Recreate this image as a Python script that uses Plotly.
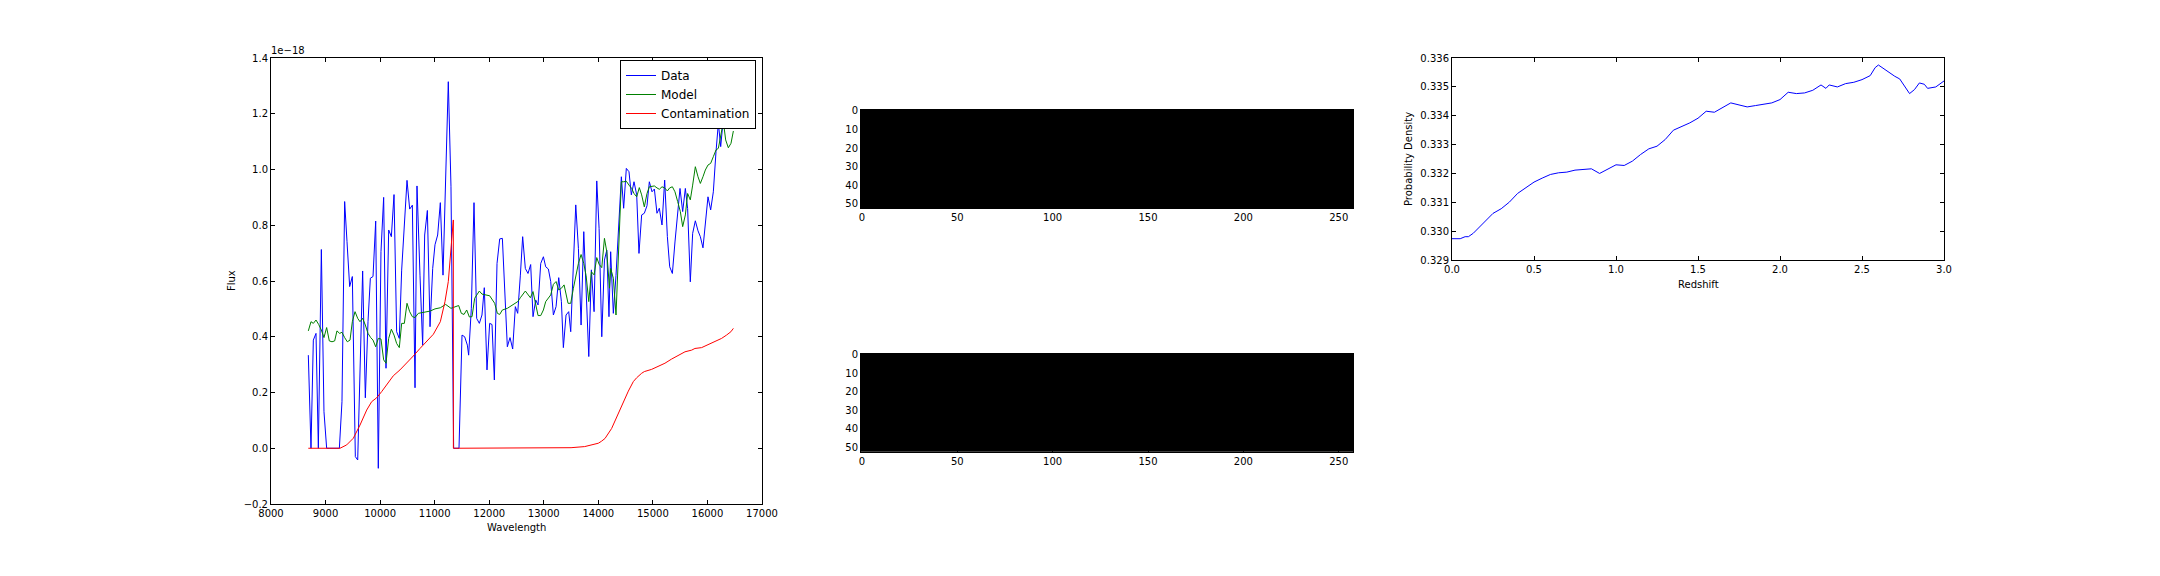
import numpy as np
import plotly.graph_objects as go

# ---------------- data: spectrum panel (flux in units of 1e-18) ----------------
data_wave = [8684, 8733, 8776, 8825, 8868, 8923, 8971, 9020, 9078, 9136, 9195, 9253, 9301, 9350, 9393,
             9442, 9491, 9546, 9589, 9680, 9729, 9778, 9821, 9870, 9919, 9967, 10016, 10065, 10108,
             10157, 10206, 10255, 10303, 10352, 10395, 10493, 10542, 10591, 10640, 10676, 10731, 10780,
             10817, 10866, 10915, 10964, 11006, 11055, 11104, 11153, 11250, 11299, 11348, 11397, 11446,
             11501, 11550, 11599, 11623, 11672, 11721, 11770, 11819, 11867, 11910, 11959, 12008, 12051,
             12094, 12143, 12192, 12241, 12290, 12332, 12381, 12430, 12479, 12522, 12571, 12613, 12662,
             12711, 12760, 12803, 12852, 12895, 12944, 12993, 13035, 13084, 13127, 13176, 13225, 13274,
             13323, 13359, 13408, 13457, 13494, 13543, 13586, 13635, 13684, 13733, 13776, 13825, 13873,
             13922, 13971, 14014, 14063, 14112, 14155, 14195, 14226, 14275, 14324, 14373, 14422, 14464,
             14513, 14562, 14605, 14654, 14703, 14745, 14794, 14843, 14892, 14935, 14984, 15027, 15075,
             15118, 15167, 15216, 15265, 15308, 15357, 15405, 15454, 15497, 15546, 15595, 15637, 15686,
             15729, 15778, 15827, 15870, 15918, 15961, 16010, 16059, 16108, 16157, 16200, 16243, 16292,
             16341, 16390, 16440]
data_flux = [0.334, 0.0, 0.388, 0.412, 0.0, 0.713, 0.131, 0.0, 0.0, 0.0, 0.0, 0.0, 0.167, 0.885, 0.741,
             0.580, 0.616, -0.030, -0.042, 0.636, 0.181, 0.454, 0.610, 0.616, 0.815, -0.072, 0.705, 0.900, 0.287,
             0.783, 0.759, 0.910, 0.418, 0.394, 0.639, 0.961, 0.858, 0.872, 0.217, 0.941, 0.621, 0.370,
             0.765, 0.853, 0.436, 0.645, 0.730, 0.765, 0.881, 0.621, 1.315, 0.940, 0.0, 0.0, 0.0,
             0.406, 0.400, 0.370, 0.334, 0.502, 0.881, 0.466, 0.448, 0.478, 0.576, 0.281, 0.448, 0.444,
             0.245, 0.663, 0.751, 0.753, 0.526, 0.364, 0.397, 0.356, 0.508, 0.484, 0.621, 0.759, 0.645,
             0.627, 0.659, 0.472, 0.532, 0.514, 0.663, 0.687, 0.651, 0.643, 0.598, 0.478, 0.508, 0.612,
             0.526, 0.361, 0.478, 0.490, 0.418, 0.645, 0.873, 0.717, 0.442, 0.777, 0.586, 0.329, 0.640,
             0.490, 0.959, 0.788, 0.400, 0.675, 0.711, 0.472, 0.705, 0.484, 0.620, 0.789, 0.974, 0.861,
             1.004, 0.992, 0.909, 0.956, 0.909, 0.699, 0.837, 0.843, 0.870, 0.956, 0.920, 0.930, 0.843,
             0.861, 0.801, 0.962, 0.760, 0.651, 0.627, 0.740, 0.850, 0.932, 0.849, 0.932, 0.860, 0.597,
             0.771, 0.816, 0.780, 0.759, 0.719, 0.800, 0.902, 0.855, 0.920, 1.064, 1.166, 1.082, 1.184,
             1.22, 1.24, 1.21]

model_wave = [8684, 8733, 8776, 8825, 8874, 8923, 8971, 9020, 9069, 9118, 9167, 9209, 9258, 9301, 9350,
              9399, 9448, 9491, 9540, 9589, 9631, 9680, 9729, 9778, 9827, 9870, 9919, 9967, 10016, 10065,
              10108, 10157, 10206, 10255, 10303, 10352, 10395, 10444, 10493, 10542, 10591, 10640, 10701,
              10817, 10915, 11006, 11104, 11201, 11299, 11440, 11489, 11538, 11587, 11636, 11685, 11733,
              11819, 11867, 11916, 12008, 12100, 12149, 12192, 12241, 12332, 12430, 12522, 12571, 12662,
              12754, 12803, 12895, 12944, 12993, 13035, 13127, 13176, 13225, 13274, 13323, 13372, 13445,
              13494, 13543, 13586, 13635, 13684, 13733, 13776, 13825, 13873, 13922, 13971, 14014, 14063,
              14112, 14155, 14204, 14226, 14275, 14324, 14422, 14464, 14513, 14562, 14611, 14654, 14703,
              14751, 14794, 14843, 14892, 14935, 14984, 15027, 15075, 15118, 15167, 15216, 15265, 15308,
              15357, 15405, 15454, 15503, 15546, 15595, 15637, 15686, 15729, 15778, 15827, 15870, 15918,
              15961, 16010, 16059, 16108, 16157, 16200, 16249, 16292, 16334, 16383, 16432, 16475]
model_flux = [0.421, 0.454, 0.448, 0.460, 0.444, 0.424, 0.397, 0.433, 0.385, 0.382, 0.385, 0.421, 0.412,
              0.416, 0.397, 0.382, 0.388, 0.454, 0.490, 0.466, 0.454, 0.466, 0.442, 0.412, 0.397, 0.388,
              0.364, 0.394, 0.392, 0.317, 0.305, 0.394, 0.427, 0.406, 0.376, 0.361, 0.448, 0.448, 0.520,
              0.490, 0.472, 0.469, 0.484, 0.487, 0.492, 0.500, 0.504, 0.516, 0.502, 0.512, 0.484, 0.480,
              0.496, 0.471, 0.472, 0.538, 0.564, 0.553, 0.550, 0.547, 0.520, 0.484, 0.480, 0.496, 0.502,
              0.514, 0.526, 0.540, 0.564, 0.540, 0.562, 0.476, 0.476, 0.496, 0.526, 0.550, 0.588, 0.598,
              0.568, 0.574, 0.586, 0.520, 0.520, 0.574, 0.622, 0.663, 0.695, 0.663, 0.619, 0.526, 0.633,
              0.622, 0.684, 0.660, 0.648, 0.753, 0.705, 0.574, 0.645, 0.610, 0.478, 0.956, 0.956, 0.958,
              0.944, 0.932, 0.914, 0.902, 0.935, 0.909, 0.866, 0.914, 0.938, 0.940, 0.941, 0.934, 0.929,
              0.938, 0.934, 0.923, 0.934, 0.938, 0.920, 0.885, 0.849, 0.795, 0.837, 0.914, 0.891, 0.944,
              1.010, 0.974, 0.950, 0.974, 0.998, 1.016, 1.022, 1.046, 1.070, 1.076, 1.136, 1.172, 1.106,
              1.078, 1.094, 1.138]

contam_wave = [8684, 9265, 9387, 9509, 9631, 9754, 9845, 9937, 10028, 10120, 10242, 10364, 10486, 10609,
               10731, 10853, 10976, 11104, 11189, 11250, 11299, 11342, 11343, 13000, 13500, 13750, 13900,
               14000, 14057, 14122, 14244, 14366, 14458, 14550, 14641, 14703, 14794, 14843, 14977, 15099,
               15221, 15343, 15466, 15588, 15710, 15771, 15893, 16015, 16137, 16259, 16350, 16430, 16475]
contam_flux = [0.0, 0.0, 0.012, 0.036, 0.083, 0.137, 0.167, 0.181, 0.203, 0.227, 0.260, 0.281, 0.305, 0.331,
               0.358, 0.382, 0.409, 0.454, 0.526, 0.598, 0.705, 0.819, 0.0, 0.0, 0.002, 0.006, 0.012,
               0.018, 0.025, 0.035, 0.071, 0.125, 0.167, 0.205, 0.239, 0.253, 0.269, 0.275, 0.283, 0.293,
               0.305, 0.320, 0.334, 0.346, 0.352, 0.358, 0.361, 0.373, 0.382, 0.394, 0.406, 0.418, 0.430]

# ---------------- data: 2D image panels (all zero -> black) ----------------
image_rows = 53
image_cols = 258

# ---------------- data: redshift probability density ----------------
redshift = [0.0, 0.05, 0.08, 0.10, 0.13, 0.20, 0.25, 0.30, 0.35, 0.40, 0.45, 0.50, 0.55, 0.60, 0.65, 0.70,
            0.75, 0.80, 0.85, 0.90, 0.95, 1.00, 1.05, 1.10, 1.15, 1.20, 1.25, 1.30, 1.35, 1.40, 1.45, 1.50,
            1.55, 1.60, 1.65, 1.70, 1.75, 1.80, 1.85, 1.90, 1.95, 2.00, 2.05, 2.10, 2.15, 2.20, 2.25, 2.28,
            2.30, 2.35, 2.40, 2.45, 2.50, 2.55, 2.58, 2.60, 2.65, 2.70, 2.73, 2.76, 2.79, 2.82, 2.85, 2.88,
            2.90, 2.95, 3.00]
prob_density = [0.329751, 0.32975, 0.32982, 0.32982, 0.32994, 0.330361, 0.330626, 0.330787, 0.331017,
                0.331316, 0.331512, 0.331708, 0.331846, 0.331972, 0.33203, 0.332053, 0.332122, 0.332145,
                0.332168, 0.332007, 0.332168, 0.332306, 0.332283, 0.332433, 0.332663, 0.332858, 0.33295,
                0.33318, 0.333503, 0.333618, 0.333756, 0.333917, 0.334159, 0.334124, 0.334274, 0.334447,
                0.334377, 0.334308, 0.334354, 0.334389, 0.334447, 0.334562, 0.334815, 0.334769, 0.334792,
                0.334884, 0.335068, 0.33495, 0.335068, 0.334999, 0.335114, 0.33516, 0.335252, 0.33539,
                0.335666, 0.335758, 0.335551, 0.335367, 0.335275, 0.335022, 0.334769, 0.334907, 0.335137,
                0.335091, 0.33495, 0.334999, 0.335206]

# ---------------- tick labels ----------------
wave_ticks = list(range(8000, 17001, 1000))
flux_ticks = [-0.2, 0.0, 0.2, 0.4, 0.6, 0.8, 1.0, 1.2, 1.4]
img_xticks = [0, 50, 100, 150, 200, 250]
img_yticks = [0, 10, 20, 30, 40, 50]
z_ticks = [0.0, 0.5, 1.0, 1.5, 2.0, 2.5, 3.0]
pd_ticks = [0.329, 0.330, 0.331, 0.332, 0.333, 0.334, 0.335, 0.336]

W, H = 2160, 576
FONT = "DejaVu Sans"
TICKFONT = dict(family=FONT, size=10, color="black")


def px_x(p):
    return p / W


def px_y(p):
    return 1 - p / H


def axis_style(**kw):
    d = dict(showline=True, linecolor="black", linewidth=1, mirror="ticks", ticks="inside",
             ticklen=4, tickwidth=1, tickcolor="black", showgrid=False, zeroline=False,
             tickfont=TICKFONT, automargin=False)
    d.update(kw)
    return d


fig = go.Figure()

fig.add_trace(go.Scatter(x=data_wave, y=data_flux, mode="lines", name="Data",
                         line=dict(color="#0000ff", width=1), xaxis="x", yaxis="y"))
fig.add_trace(go.Scatter(x=model_wave, y=model_flux, mode="lines", name="Model",
                         line=dict(color="#008000", width=1), xaxis="x", yaxis="y"))
fig.add_trace(go.Scatter(x=contam_wave, y=contam_flux, mode="lines", name="Contamination",
                         line=dict(color="#ff0000", width=1), xaxis="x", yaxis="y"))

img = np.zeros((image_rows, image_cols))
for xa, ya in (("x2", "y2"), ("x3", "y3")):
    fig.add_trace(go.Heatmap(z=img, zmin=0, zmax=1, colorscale=[[0, "#000000"], [1, "#ffffff"]],
                             showscale=False, hoverinfo="skip", xaxis=xa, yaxis=ya))

fig.add_trace(go.Scatter(x=redshift, y=prob_density, mode="lines", showlegend=False,
                         line=dict(color="#0000ff", width=1), xaxis="x4", yaxis="y4"))

fig.update_layout(
    width=W, height=H, autosize=False, margin=dict(l=0, r=0, t=0, b=0, pad=0),
    paper_bgcolor="white", plot_bgcolor="white",
    font=dict(family=FONT, size=10, color="black"),
    xaxis=axis_style(domain=[px_x(271), px_x(762)], anchor="y", range=[8000, 17000],
                     tickvals=wave_ticks, ticktext=[str(v) for v in wave_ticks]),
    yaxis=axis_style(domain=[px_y(504), px_y(58)], anchor="x", range=[-0.2, 1.4],
                     tickvals=flux_ticks,
                     ticktext=[("\u2212%.1f" % -v) if v < 0 else ("%.1f" % v) for v in flux_ticks]),
    xaxis2=axis_style(domain=[px_x(861), px_x(1353)], anchor="y2",
                      range=[-0.5, image_cols - 0.5], tickvals=img_xticks),
    yaxis2=axis_style(domain=[px_y(208.3), px_y(110)], anchor="x2",
                      range=[image_rows - 0.5, -0.5], tickvals=img_yticks),
    xaxis3=axis_style(domain=[px_x(861), px_x(1353)], anchor="y3",
                      range=[-0.5, image_cols - 0.5], tickvals=img_xticks),
    yaxis3=axis_style(domain=[px_y(451.7), px_y(354)], anchor="x3",
                      range=[image_rows - 0.5, -0.5], tickvals=img_yticks),
    xaxis4=axis_style(domain=[px_x(1452), px_x(1944)], anchor="y4", range=[0, 3],
                      tickvals=z_ticks, ticktext=["%.1f" % v for v in z_ticks]),
    yaxis4=axis_style(domain=[px_y(260.4), px_y(58)], anchor="x4", range=[0.329, 0.336],
                      tickvals=pd_ticks, ticktext=["%.3f" % v for v in pd_ticks]),
    legend=dict(x=px_x(756), xanchor="right", y=px_y(60), yanchor="top",
                bgcolor="white", bordercolor="black", borderwidth=1,
                font=dict(family=FONT, size=12, color="black"), tracegroupgap=0),
    showlegend=True,
)

annots = [
    dict(text="1e\u221218", x=px_x(269), y=px_y(51), xanchor="left", yanchor="middle", font=TICKFONT),
    dict(text="Wavelength", x=px_x(516.5), y=px_y(527), xanchor="center", yanchor="middle", font=TICKFONT),
    dict(text="Flux", x=px_x(231), y=px_y(281), xanchor="center", yanchor="middle", textangle=-90,
         font=TICKFONT),
    dict(text="Redshift", x=px_x(1698), y=px_y(284), xanchor="center", yanchor="middle", font=TICKFONT),
    dict(text="Probability Density", x=px_x(1408), y=px_y(159), xanchor="center", yanchor="middle",
         textangle=-90, font=TICKFONT),
]
for a in annots:
    fig.add_annotation(xref="paper", yref="paper", showarrow=False, **a)

page_fix = ("document.body.style.margin='0';document.body.style.padding='0';"
            "document.body.style.overflow='hidden';"
            "document.documentElement.style.overflow='hidden';")

fig.write_html("out.html", config={"responsive": False, "displayModeBar": False}, post_script=page_fix)
